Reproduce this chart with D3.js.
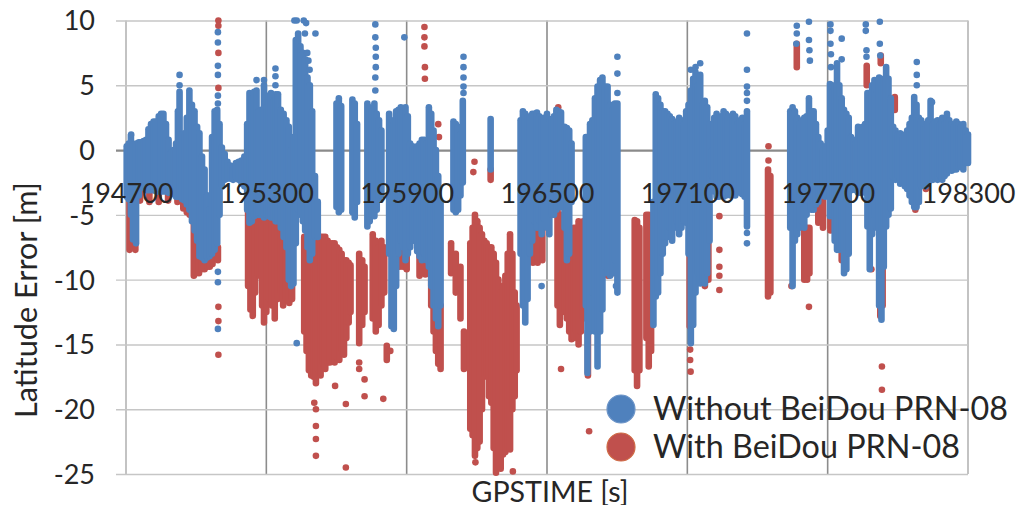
<!DOCTYPE html>
<html>
<head>
<meta charset="utf-8">
<script src="https://cdn.jsdelivr.net/npm/d3@7"></script>
<style>
    body { margin: 0; background: #fff; }
    text { font-family: Lato, "Liberation Sans", sans-serif; fill: #262626; }
</style>
</head>
<body>
<svg id="chart" width="1021" height="505"></svg>
<script>
// Axis ticks
const xTicks = [194700, 195300, 195900, 196500, 197100, 197700, 198300];
const yTicks = [-25, -20, -15, -10, -5, 0, 5, 10];
const seriesNames = ['Without BeiDou PRN-08', 'With BeiDou PRN-08'];

// Dense runs of points: [GPSTIME, lowest error, highest error]
const blueRuns = [
    [194703,-3.6,0.3],[194712,-3.8,0.5],[194721,-5.0,1.1],[194730,-6.9,0.4],[194743,-7.2,0.5],[194755,-3.5,0.6],
    [194764,-2.8,0.6],[194775,-2.9,0.7],[194786,-3.1,0.8],[194796,-3.1,1.6],[194807,-3.1,2.0],[194818,-3.1,2.2],
    [194829,-3.2,2.2],[194840,-3.2,2.6],[194850,-3.2,2.8],[194860,-3.2,2.8],[194871,-3.2,2.0],[194882,-3.3,0.8],
    [194893,-3.3,-0.2],[194903,-3.4,0.0],[194914,-3.6,0.5],[194922,-3.6,3.0],[194929,-3.6,4.5],[194940,-3.8,1.2],
    [194950,-3.9,1.3],[194960,-4.2,2.5],[194971,-4.6,4.6],[194982,-5.5,3.5],[194993,-6.2,3.0],[195004,-7.0,1.8],
    [195014,-8.2,1.3],[195025,-8.3,-0.5],[195036,-8.5,-1.5],[195047,-8.3,-3.5],[195057,-8.2,-4.6],[195068,-8.0,1.0],
    [195079,-7.7,3.0],[195090,-7.2,3.1],[195100,-5.0,2.0],[195110,-2.8,0.2],[195122,-2.3,-0.3],[195134,-2.2,-0.9],
    [195146,-2.2,-1.2],[195158,-2.3,-1.3],[195170,-2.1,-1.0],[195182,-2.3,-0.9],[195194,-2.6,-0.8],[195206,-2.8,-0.5],
    [195218,-4.6,2.0],[195228,-5.6,4.4],[195238,-5.5,4.0],[195248,-5.1,4.5],[195258,-5.0,4.6],[195268,-5.0,3.0],
    [195278,-5.0,3.1],[195290,-5.2,5.0],[195300,-5.0,3.3],[195310,-5.1,4.2],[195320,-5.2,4.4],[195330,-5.2,3.8],
    [195340,-5.5,4.3],[195350,-5.5,4.3],[195362,-6.0,3.1],[195374,-6.7,2.8],[195386,-7.5,2.3],[195396,-10.0,1.8],
    [195406,-10.5,0.0],[195416,-10.3,1.0],[195426,-7.2,8.5],[195436,-4.6,9.0],[195446,-5.0,8.0],[195456,-5.5,7.5],
    [195466,-6.2,7.0],[195476,-7.5,5.6],[195486,-8.5,5.0],[195496,-8.0,3.0],[195508,-6.7,-2.0],[195520,-6.7,-4.0],
    [195600,-4.4,3.6],[195610,-4.8,4.0],[195620,-4.6,3.4],
    [195668,-4.8,3.9],[195678,-5.2,3.6],[195688,-4.0,2.0],
    [195732,-5.9,3.6],[195742,-5.5,3.3],[195752,-5.0,3.0],[195762,-5.1,3.6],[195772,-4.6,2.8],[195782,-3.8,2.3],
    [195792,-3.5,1.5],
    [195825,-8.0,2.8],[195835,-13.6,2.3],[195845,-13.8,2.0],[195855,-10.5,3.0],[195865,-8.0,3.1],[195875,-7.0,3.3],
    [195885,-7.5,3.0],[195895,-8.5,3.3],[195905,-8.0,2.6],[195915,-7.5,0.5],[195925,-7.0,0.3],[195935,-7.0,0.0],
    [195945,-7.8,0.3],[195955,-8.2,0.5],[195965,-8.5,0.8],[195975,-8.0,0.8],[195985,-8.5,0.5],[195995,-9.0,3.3],
    [196005,-10.5,2.8],[196015,-12.0,1.5],[196025,-13.0,0.0],[196035,-13.6,-2.0],[196045,-12.0,-4.0],
    [196100,-4.6,2.2],[196110,-4.8,2.0],[196120,-4.6,1.8],[196130,-3.5,1.2],[196140,-2.5,3.8],
    [196259,-1.5,2.4],
    [196387,-8.0,2.3],[196397,-12.0,3.0],[196407,-13.3,2.8],[196417,-11.5,2.5],[196427,-8.0,2.6],[196437,-7.0,2.8],
    [196447,-5.5,2.8],[196457,-6.0,2.9],[196467,-5.5,2.6],[196477,-6.5,2.4],[196487,-5.3,2.5],[196500,-6.0,2.8],
    [196510,-6.5,2.2],[196520,-5.0,2.4],[196530,-5.0,2.6],[196540,-4.6,3.1],[196550,-4.4,3.0],[196560,-4.4,2.9],
    [196575,-6.0,1.8],[196585,-8.5,1.7],[196595,-8.0,1.5],[196605,-4.0,0.5],
    [196666,-12.0,1.0],[196673,-17.2,1.0],[196684,-14.0,2.0],[196694,-11.0,2.3],[196705,-14.0,4.0],[196716,-16.7,4.9],
    [196727,-14.0,5.4],[196737,-12.3,5.6],[196748,-9.0,4.9],[196759,-9.5,4.9],[196770,-9.7,3.5],[196780,-9.5,3.1],
    [196790,-8.5,3.6],[196801,-11.0,3.6],
    [196955,-13.5,-4.0],[196965,-11.3,4.3],[196975,-11.0,4.0],[196985,-9.5,3.5],[196995,-8.0,3.0],[197005,-7.2,3.0],
    [197015,-6.7,2.8],[197025,-6.0,2.6],[197035,-7.0,2.4],[197045,-6.0,2.0],[197055,-5.5,2.2],[197065,-6.5,2.5],
    [197075,-6.0,2.3],[197085,-5.5,2.0],[197095,-5.6,3.0],[197105,-8.0,3.5],[197115,-14.9,4.6],[197125,-13.5,5.5],
    [197135,-11.0,6.0],[197145,-9.5,5.0],[197155,-10.3,5.8],[197165,-10.0,3.5],[197175,-10.3,3.8],[197185,-9.5,3.3],
    [197195,-7.0,2.0],[197205,-2.0,0.0],[197215,-3.2,2.5],[197225,-3.6,2.8],[197235,-3.6,2.5],[197245,-3.5,2.6],
    [197255,-3.6,3.0],[197265,-3.5,2.8],[197275,-3.3,2.6],[197285,-3.5,2.3],[197295,-3.2,2.8],[197305,-3.5,2.6],
    [197315,-3.0,2.0],[197325,-3.3,2.3],[197335,-3.4,2.5],[197345,-3.6,2.0],[197355,-5.9,3.0],
    [197540,-6.0,3.0],[197550,-10.5,3.3],[197560,-7.0,3.0],[197570,-6.5,2.5],[197580,-6.0,2.0],[197590,-5.5,2.3],
    [197600,-6.0,2.5],[197610,-5.0,2.6],[197620,-4.0,4.0],[197630,-4.6,3.0],[197640,-4.6,3.0],[197650,-4.2,2.0],
    [197660,-4.0,1.0],[197670,-3.5,0.5],[197680,-3.5,0.0],[197690,-3.6,0.3],[197700,-3.5,1.5],[197710,-5.1,5.1],
    [197720,-5.0,4.5],[197730,-7.0,5.0],[197740,-7.7,6.7],[197750,-7.7,5.0],[197760,-7.5,4.0],[197770,-9.5,3.1],
    [197780,-9.2,2.8],[197790,-8.0,2.5],[197800,-3.1,1.0],[197810,-3.0,0.8],[197820,-3.1,0.5],[197830,-3.3,1.8],
    [197840,-3.3,1.5],[197850,-3.0,1.8],[197860,-3.3,2.0],[197870,-5.9,4.4],[197880,-9.2,4.0],[197890,-6.5,5.0],
    [197900,-5.0,5.4],[197910,-6.0,4.4],[197920,-12.0,5.6],[197930,-13.1,5.0],[197940,-9.0,5.5],[197950,-5.9,6.4],
    [197960,-5.0,5.5],[197970,-4.5,4.0],[197980,-2.1,1.8],[197990,-2.3,1.5],[198000,-2.0,1.2],[198010,-2.6,1.3],
    [198020,-2.5,1.0],[198030,-2.8,1.2],[198040,-3.0,1.5],[198050,-3.5,2.0],[198060,-4.0,2.5],[198070,-4.4,4.1],
    [198080,-4.4,3.5],[198090,-4.0,2.5],[198100,-2.8,2.3],[198110,-2.6,2.0],[198120,-2.8,1.8],[198130,-2.5,2.3],
    [198140,-2.3,3.8],[198150,-2.3,2.0],[198160,-2.2,2.2],[198170,-2.3,2.3],[198180,-2.0,2.0],[198190,-2.3,2.5],
    [198200,-2.0,2.0],[198210,-1.8,2.8],[198220,-1.5,2.3],[198230,-1.6,2.0],[198240,-1.5,1.8],[198250,-1.5,2.2],
    [198260,-1.3,2.0],[198270,-1.3,1.8],[198280,-1.5,2.0],[198290,-1.0,1.5],[198300,-1.0,1.2]
];

// Single scattered points: [GPSTIME, error]
const blueDots = [
    [194722,1.2],[194929,5.0],[194929,5.8],
    [195093,9.1],[195093,8.3],[195093,6.5],[195093,5.8],[195093,4.2],[195093,3.6],
    [195093,-9.4],[195093,-10.2],[195093,-13.8],[195258,5.4],[195290,5.4],
    [195339,6.3],[195339,5.7],[195339,5.0],[195420,10.0],[195430,10.0],[195460,10.0],[195470,9.8],
    [195465,9.0],[195475,7.5],[195480,6.9],[195485,6.2],[195510,9.0],[195430,-14.9],
    [195766,9.7],[195766,8.7],[195768,7.9],[195768,7.2],[195768,6.4],[195766,5.6],[195766,4.6],[195890,8.7],
    [196143,7.2],[196143,6.4],[196143,5.6],[196143,4.9],[196143,4.4],[196477,-10.5],
    [196801,7.2],[196801,5.9],[196801,4.4],[196795,-10.5],
    [197115,6.2],[197135,6.4],[197155,6.7],
    [197355,9.0],[197355,6.2],[197355,4.9],[197355,4.4],[197355,3.8],[197355,-6.4],[197355,-7.2],
    [197568,9.6],[197568,9.0],[197566,8.2],[197620,9.9],[197620,8.5],[197622,7.7],[197624,6.9],
    [197712,9.7],[197712,9.2],[197712,8.2],[197714,7.4],[197714,6.4],[197760,8.6],[197760,7.0],
    [197863,9.7],[197863,9.2],[197866,7.7],[197866,7.2],[197923,9.9],[197923,8.2],[197925,7.3],
    [198081,6.8],[198081,5.8],[198081,5.0],[198146,3.7]
];

const redRuns = [
    [194715,-7.7,-3.0],[194728,-7.5,-3.0],[194740,-7.7,-3.0],[194760,-3.9,-3.0],[194800,-4.0,-3.0],[194840,-4.0,-3.0],
    [194880,-3.9,-3.0],[194920,-4.0,-3.0],[194945,-4.5,-3.0],[194960,-4.8,-3.0],[194972,-5.0,-3.0],[194990,-9.7,-3.5],
    [195000,-9.5,-4.0],[195012,-9.5,-4.5],[195024,-9.2,-5.0],[195036,-9.2,-5.5],[195048,-9.0,-5.5],[195058,-9.0,-5.5],
    [195070,-8.8,-5.0],[195093,-8.5,-7.5],
    [195222,-10.5,-4.6],[195232,-12.3,-4.6],[195242,-12.8,-5.0],[195252,-11.0,-5.0],[195262,-9.5,-4.8],[195272,-9.7,-4.6],
    [195282,-12.0,-4.6],[195290,-13.3,-4.6],[195300,-12.5,-4.6],[195312,-11.5,-4.6],[195324,-12.0,-4.6],[195336,-13.0,-4.8],
    [195348,-11.5,-5.0],[195360,-11.0,-5.5],[195372,-12.0,-6.0],[195384,-11.5,-7.0],[195398,-11.8,-9.0],[195410,-11.5,-9.5],
    [195462,-14.0,-6.7],[195472,-15.5,-6.7],[195482,-17.0,-7.0],[195492,-17.4,-7.2],[195502,-17.5,-6.7],[195512,-18.0,-6.7],
    [195522,-17.0,-6.7],[195532,-17.4,-6.7],[195542,-16.5,-6.7],[195552,-16.9,-6.7],[195562,-16.4,-7.0],[195572,-16.4,-7.2],
    [195582,-16.0,-7.2],[195592,-16.4,-7.2],[195602,-16.0,-7.5],[195612,-16.2,-7.7],[195622,-15.5,-8.0],[195632,-15.8,-8.5],
    [195642,-14.5,-8.5],[195652,-13.3,-8.7],[195660,-12.5,-8.9],
    [195697,-14.9,-8.0],[195710,-13.5,-8.5],[195720,-12.5,-9.0],[195755,-13.0,-6.5],[195768,-14.0,-7.0],[195780,-13.5,-7.5],
    [195792,-12.0,-7.0],[195804,-11.0,-7.5],[195815,-16.2,-15.1],
    [195870,-9.0,-7.0],[195885,-9.0,-7.0],[195900,-9.2,-7.5],[195955,-9.7,-7.0],[195968,-9.5,-7.0],[195980,-9.6,-7.5],
    [196005,-12.0,-8.0],[196015,-14.0,-9.0],[196025,-15.5,-10.0],[196035,-16.5,-11.0],[196045,-16.9,-12.0],
    [196090,-9.5,-7.2],[196110,-11.0,-8.0],[196130,-13.0,-9.0],[196145,-16.9,-14.0],
    [196172,-21.5,-7.2],[196182,-22.0,-6.0],[196192,-23.6,-5.0],[196202,-23.0,-5.5],[196212,-22.5,-6.0],[196222,-20.0,-6.5],
    [196232,-17.5,-7.0],[196242,-17.4,-7.2],[196252,-19.0,-7.5],[196259,-2.3,-1.5],[196262,-19.5,-7.5],[196272,-23.0,-8.0],
    [196282,-24.9,-8.7],[196292,-24.5,-10.0],[196302,-24.6,-11.0],[196312,-23.5,-10.5],[196322,-23.3,-9.7],[196332,-23.0,-8.0],
    [196342,-23.1,-6.5],[196352,-20.0,-8.0],[196362,-19.0,-11.0],[196370,-17.0,-12.0],
    [196400,-9.0,-5.0],[196420,-8.7,-5.0],[196440,-8.7,-4.6],[196460,-8.7,-4.6],[196480,-8.5,-5.0],
    [196545,-12.0,-4.6],[196555,-13.5,-5.0],[196565,-12.5,-5.0],[196575,-12.5,-6.0],[196585,-13.0,-7.0],[196595,-14.0,-8.0],
    [196605,-14.6,-9.0],[196615,-14.5,-6.0],[196625,-14.0,-6.0],[196635,-15.0,-5.5],[196645,-14.0,-6.0],[196655,-13.0,-5.5],
    [196675,-17.4,-14.0],[196760,-9.7,-6.5],[196780,-9.5,-6.5],
    [196875,-17.0,-5.4],[196885,-18.2,-5.5],[196895,-17.0,-6.0],[196925,-14.5,-5.0],[196935,-16.7,-5.0],[196945,-15.5,-6.0],
    [197110,-13.6,-7.0],[197175,-10.5,-7.0],[197190,-10.0,-6.5],
    [197445,-11.3,-1.5],[197455,-11.0,-2.0],[197568,6.4,8.2],
    [197600,-10.0,-5.9],[197612,-10.0,-6.0],[197622,-9.5,-6.0],[197660,-5.6,-3.5],[197680,-6.0,-3.5],
    [197712,-6.2,-4.6],[197725,-6.0,-4.6],[197760,-8.5,-5.0],[197772,-8.2,-5.0],
    [197867,5.0,6.5],[197927,6.7,7.3],[197927,3.2,5.4],[197987,3.1,4.1],[197925,-12.8,-8.2],[197935,-12.0,-8.5],
    [198075,-4.6,-3.5],[198120,-3.0,-2.0]
];

const redDots = [
    [195095,10.0],[195095,9.6],[195095,7.5],[195095,4.8],[195095,-12.1],[195095,-13.2],[195095,-15.8],
    [195505,-19.5],[195512,-20.0],[195512,-21.3],[195512,-22.3],[195512,-23.6],[195594,-18.2],[195640,-19.6],[195640,-24.5],
    [195697,-16.4],[195697,-16.9],[195720,-17.7],[195720,-19.0],[195800,-19.2],[195830,-15.5],
    [195976,9.5],[195976,8.7],[195976,8.0],[195978,6.4],[195978,5.5],
    [196035,2.0],[196038,1.0],[196185,-1.7],[196190,-0.9],[196194,-24.1],[196200,-5.5],[196354,-24.8],
    [196548,3.3],[196548,2.6],[196550,2.0],[196560,-16.9],[196680,-21.7],[197037,-5.9],
    [197112,-15.4],[197112,-16.2],[197114,-17.1],
    [197237,-5.1],[197237,-7.7],[197237,-9.0],[197237,-9.7],[197237,-10.8],
    [197447,0.3],[197447,-0.8],[197545,-10.5],[197620,-12.1],[197887,-9.2],[197932,-16.7],[197932,-18.5]
];

const BLUE = '#4f81bd';
const RED = '#c0504d';
const DOT_R = 3.3;

const svg = d3.select('#chart');

const x = d3.scaleLinear().domain([194700, 198300]).range([126, 968]);
const y = d3.scaleLinear().domain([-25, 10]).range([474, 20.5]);

// Plain hyphen minus, like the picture
const plainNumber = d => String(d);

// Shrinks or grows a text so its length matches the picture
function fitWidth(sel, target) {
    const w = sel.node().getComputedTextLength();
    const fs = parseFloat(sel.attr('font-size'));
    sel.attr('font-size', fs * target / w);
    return fs * target / w;
}

/////////////////
// Gridlines
/////////////////
const yGrid = svg.append('g')
    .attr('transform', 'translate(116,0)')
    .call(d3.axisLeft(y).tickValues(yTicks).tickSize(-(968 - 116)).tickFormat(''));
yGrid.select('.domain').remove();
yGrid.selectAll('line')
    .attr('stroke', d => d === 0 ? '#8a8a8a' : '#c6c6c6')
    .attr('stroke-width', d => d === 0 ? 2.2 : 1.4);

svg.append('g')
    .selectAll('line')
    .data(xTicks)
    .join('line')
    .attr('x1', d => x(d))
    .attr('x2', d => x(d))
    .attr('y1', y(10))
    .attr('y2', y(-25))
    .attr('stroke', (d, i) => (i === 0 || i === xTicks.length - 1) ? '#b4b4b4' : '#8c8c8c')
    .attr('stroke-width', 1.6);

// Put the zero line back on top of the vertical grid
yGrid.raise();

/////////////////
// Points (red first, blue drawn over it)
/////////////////
function drawSeries(runs, dots, color) {
    const g = svg.append('g');
    g.selectAll('line')
        .data(runs)
        .join('line')
        .attr('x1', d => x(d[0]))
        .attr('x2', d => x(d[0]))
        .attr('y1', d => y(d[1]))
        .attr('y2', d => y(d[2]))
        .attr('stroke', color)
        .attr('stroke-width', DOT_R * 2)
        .attr('stroke-linecap', 'round');
    g.selectAll('circle')
        .data(dots)
        .join('circle')
        .attr('cx', d => x(d[0]))
        .attr('cy', d => y(d[1]))
        .attr('r', DOT_R)
        .attr('fill', color);
}
drawSeries(redRuns, redDots, RED);
drawSeries(blueRuns, blueDots, BLUE);

/////////////////
// Tick labels and titles
/////////////////
const yLabels = svg.append('g')
    .attr('transform', 'translate(116,0)')
    .call(d3.axisLeft(y).tickValues(yTicks).tickFormat(plainNumber).tickSize(0).tickPadding(21));
yLabels.select('.domain').remove();
yLabels.selectAll('text')
    .attr('font-size', 27)
    .attr('font-family', 'Lato, sans-serif')
    .attr('fill', '#262626')
    .attr('dy', '0.35em');

const xLabels = svg.append('g')
    .attr('transform', `translate(0,${y(0)})`)
    .call(d3.axisBottom(x).tickValues(xTicks).tickFormat(plainNumber).tickSize(0).tickPadding(0));
xLabels.select('.domain').remove();
xLabels.selectAll('text')
    .attr('font-size', 27)
    .attr('font-family', 'Lato, sans-serif')
    .attr('fill', '#1a1a1a')
    .attr('y', 53)
    .attr('dy', 0);

const yTitle = svg.append('text')
    .attr('transform', 'translate(37,300) rotate(-90)')
    .attr('text-anchor', 'middle')
    .attr('font-size', 30)
    .text('Latitude Error [m]');
fitWidth(yTitle, 236);

const xTitle = svg.append('text')
    .attr('x', 550)
    .attr('y', 502)
    .attr('text-anchor', 'middle')
    .attr('font-size', 30)
    .text('GPSTIME [s]');
fitWidth(xTitle, 157);

/////////////////
// Legend
/////////////////
const legend = svg.append('g');
const legendY = [409, 447];
legend.selectAll('circle')
    .data(seriesNames)
    .join('circle')
    .attr('cx', 621)
    .attr('cy', (d, i) => legendY[i])
    .attr('r', 14)
    .attr('fill', (d, i) => i === 0 ? BLUE : RED)
    .attr('stroke', (d, i) => i === 0 ? '#6d95c8' : '#cf6a45')
    .attr('stroke-width', 1.2);
const legendText = legend.selectAll('text')
    .data(seriesNames)
    .join('text')
    .attr('x', 653)
    .attr('y', (d, i) => legendY[i] + 11)
    .attr('font-size', 34)
    .text(d => d);
const legendSize = fitWidth(legendText.filter((d, i) => i === 0), 355);
legendText.attr('font-size', legendSize);
</script>
</body>
</html>
